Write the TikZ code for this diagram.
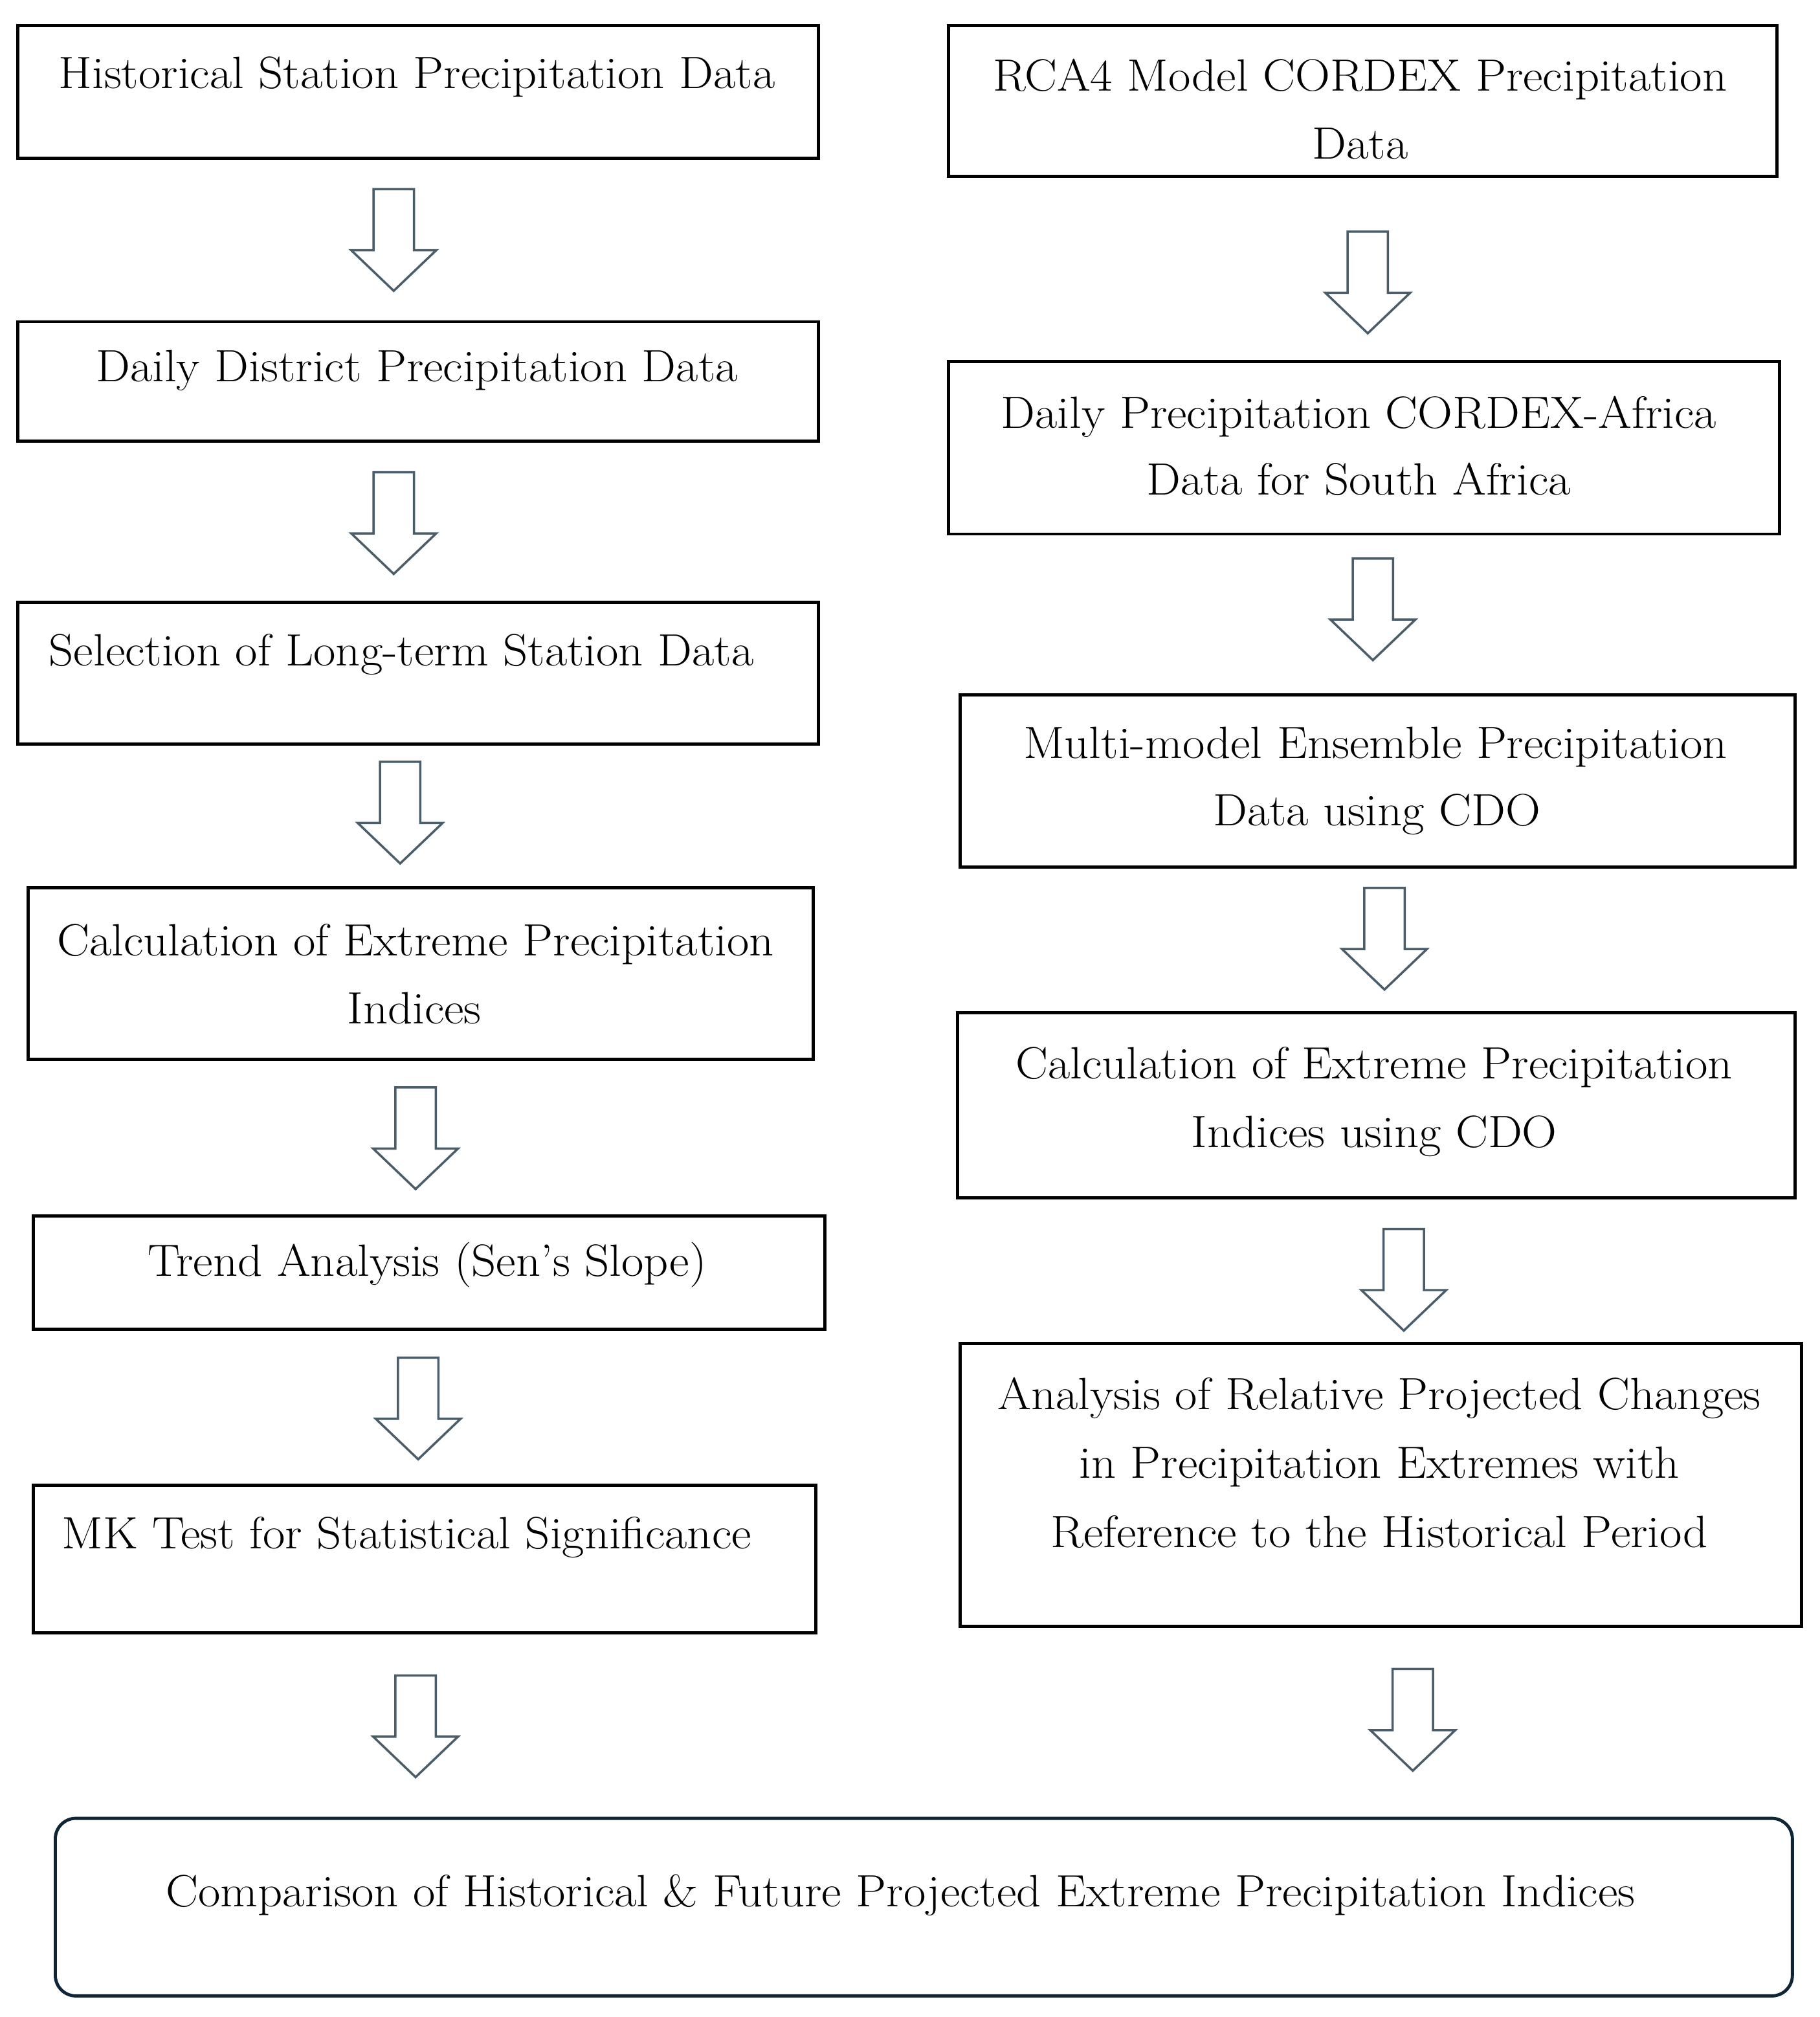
\documentclass[tikz,border=0pt]{standalone}
\usepackage{fontspec}
\setmainfont{Latin Modern Roman}[FakeStretch=1.07]
\definecolor{arrowcol}{HTML}{4A5D6B}
\definecolor{roundcol}{HTML}{0D2535}
\tikzset{
  box/.style={draw=black, line width=1.4pt, fill=white, inner sep=0pt},
  endbox/.style={draw=roundcol, line width=1.4pt, rounded corners=3.2mm, inner sep=0pt},
  txt/.style={anchor=base, inner sep=0pt, font=\fontsize{20}{30}\selectfont},
  arrowline/.style={draw=arrowcol, line width=1pt, fill=white, line join=miter},
  barrow/.pic={\draw[arrowline] (-15.7,0) -- (15.7,0) -- (15.7,47.5) -- (33,47.5) -- (0,79) -- (-33,47.5) -- (-15.7,47.5) -- cycle;}
}
\begin{document}
\begin{tikzpicture}[x=0.2mm, y=-0.2mm]
\useasboundingbox (0,0) rectangle (1414,1567.4);
% left column boxes
\node[box, minimum width=124.4mm, minimum height=20.6mm] (L1) at (325,71.5) {};
\node[box, minimum width=124.4mm, minimum height=18.6mm] (L2) at (325,296.5) {};
\node[box, minimum width=124.4mm, minimum height=22mm] (L3) at (325,523) {};
\node[box, minimum width=122mm, minimum height=26.6mm] (L4) at (327,756.5) {};
\node[box, minimum width=123mm, minimum height=17.6mm] (L5) at (333.5,989) {};
\node[box, minimum width=121.6mm, minimum height=23mm] (L6) at (330,1211.5) {};
% right column boxes
\node[box, minimum width=128.8mm, minimum height=23.4mm] (R1) at (1059,78.5) {};
\node[box, minimum width=129.2mm, minimum height=26.8mm] (R2) at (1060,348) {};
\node[box, minimum width=129.8mm, minimum height=26.8mm] (R3) at (1070.5,607) {};
\node[box, minimum width=130.2mm, minimum height=28.8mm] (R4) at (1069.5,859) {};
\node[box, minimum width=130.8mm, minimum height=44mm] (R5) at (1073,1154) {};
% final box
\node[endbox, minimum width=270mm, minimum height=27.6mm] (F) at (718,1482) {};
% texts
\node[txt] (L1t) at (324,68.5) {Historical Station Precipitation Data};
\node[txt] (L2t) at (324,296.5) {Daily District Precipitation Data};
\node[txt] (L3t) at (312,517.5) {Selection of Long-term Station Data};
\node[txt] (L4a) at (323,742.5) {Calculation of Extreme Precipitation};
\node[txt] (L4b) at (322,795.5) {Indices};
\node[txt] (L5t) at (332,991.5) {Trend Analysis (Sen’s Slope)};
\node[txt] (L6t) at (316,1203.5) {MK Test for Statistical Significance};
\node[txt] (R1a) at (1057,70.5) {RCA4 Model CORDEX Precipitation};
\node[txt] (R1b) at (1057,123.5) {Data};
\node[txt] (R2a) at (1056,332.5) {Daily Precipitation CORDEX-Africa};
\node[txt] (R2b) at (1056,384.5) {Data for South Africa};
\node[txt] (R3a) at (1069,589.5) {Multi-model Ensemble Precipitation};
\node[txt] (R3b) at (1070,641.5) {Data using CDO};
\node[txt] (R4a) at (1068,838.5) {Calculation of Extreme Precipitation};
\node[txt] (R4b) at (1068,891.5) {Indices using CDO};
\node[txt] (R5a) at (1072,1095.5) {Analysis of Relative Projected Changes};
\node[txt] (R5b) at (1072,1148.5) {in Precipitation Extremes with};
\node[txt] (R5c) at (1072,1202.5) {Reference to the Historical Period};
\node[txt] (Ft) at (700,1481.5) {Comparison of Historical \& Future Projected Extreme Precipitation Indices};
% block arrows
\coordinate (a1) at (306,147);
\coordinate (a2) at (306,367);
\coordinate (a3) at (311,592);
\coordinate (a4) at (323,845);
\coordinate (a5) at (325,1055);
\coordinate (a6) at (323,1302);
\coordinate (b1) at (1063,180);
\coordinate (b2) at (1067,434);
\coordinate (b3) at (1076,690);
\coordinate (b4) at (1091,955);
\coordinate (b5) at (1098,1297);
\foreach \c in {a1,a2,a3,a4,a5,a6,b1,b2,b3,b4,b5} \pic at (\c) {barrow};
\end{tikzpicture}
\end{document}
